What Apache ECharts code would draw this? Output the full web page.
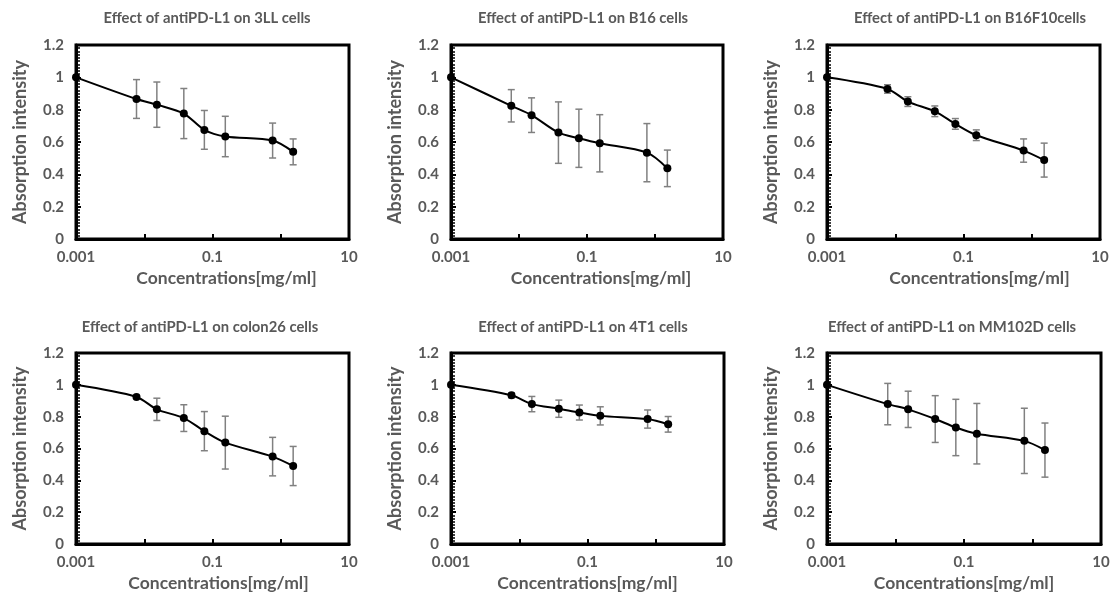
<!DOCTYPE html>
<html><head><meta charset="utf-8">
<script src="https://cdn.jsdelivr.net/npm/echarts@6/dist/echarts.min.js"></script>
<style>html,body{margin:0;padding:0;background:#fff}#c{width:1114px;height:593px}</style>
</head><body><div id="c"></div>
<script>
// ---- data ----
const concentrations = [0.001, 0.0077, 0.0153, 0.038, 0.076, 0.154, 0.76, 1.52];
const titles = [
  'Effect of antiPD-L1 on 3LL cells',
  'Effect of antiPD-L1 on B16 cells',
  'Effect of antiPD-L1 on B16F10cells',
  'Effect of antiPD-L1 on colon26 cells',
  'Effect of antiPD-L1 on 4T1 cells',
  'Effect of antiPD-L1 on MM102D cells'
];
const mean3LL    = [1, 0.866, 0.831, 0.776, 0.675, 0.634, 0.609, 0.539];
const err3LL     = [0, 0.120, 0.140, 0.155, 0.120, 0.125, 0.108, 0.080];
const meanB16    = [1, 0.824, 0.766, 0.658, 0.623, 0.592, 0.534, 0.437];
const errB16     = [0, 0.100, 0.107, 0.190, 0.180, 0.177, 0.180, 0.113];
const meanB16F10 = [1, 0.928, 0.850, 0.790, 0.712, 0.642, 0.547, 0.488];
const errB16F10  = [0, 0.026, 0.030, 0.033, 0.033, 0.033, 0.072, 0.105];
const meanColon26= [1, 0.924, 0.846, 0.791, 0.709, 0.637, 0.549, 0.490];
const errColon26 = [0, 0.010, 0.070, 0.084, 0.123, 0.166, 0.121, 0.123];
const mean4T1    = [1, 0.934, 0.879, 0.850, 0.826, 0.805, 0.785, 0.752];
const err4T1     = [0, 0.015, 0.048, 0.054, 0.047, 0.057, 0.057, 0.049];
const meanMM102D = [1, 0.879, 0.846, 0.785, 0.732, 0.693, 0.648, 0.590];
const errMM102D  = [0, 0.130, 0.114, 0.147, 0.177, 0.190, 0.205, 0.170];
const xTickLabels = ['0.001', '0.1', '10'];
const xAxisName = 'Concentrations[mg/ml]';
const yAxisName = 'Absorption intensity';

const means = [mean3LL, meanB16, meanB16F10, meanColon26, mean4T1, meanMM102D];
const errs  = [err3LL, errB16, errB16F10, errColon26, err4T1, errMM102D];

// ---- layout ----
const grids = [
  {left: 76,  top: 45,  width: 273, height: 194},
  {left: 451, top: 45,  width: 272, height: 194},
  {left: 827, top: 45,  width: 273, height: 194},
  {left: 76,  top: 353, width: 273, height: 195},
  {left: 451, top: 353, width: 273, height: 195},
  {left: 827, top: 353, width: 274, height: 195}
];
const titlePos = [[207, 11], [583, 11], [970, 11], [200, 320], [583, 320], [952, 320]];
const nameShift = [28, 28, 32, 12, 0, 0];
const FONT = 'Lato';
const GRAY = '#595959';

const option = {
  animation: false,
  title: titles.map((t, i) => ({
    text: t, left: titlePos[i][0], top: titlePos[i][1], textAlign: 'center', padding: 0,
    textStyle: {fontFamily: FONT, fontSize: 14.8, fontWeight: 'bold', color: GRAY}
  })),
  grid: grids.map(g => Object.assign({show: true, borderColor: '#000', borderWidth: 3}, g)),
  xAxis: grids.map((g, i) => {
    const ax = {
      type: 'log', gridIndex: i, min: 0.001, max: 10, splitNumber: 4,
      axisLine: {show: true, onZero: false, lineStyle: {color: '#000', width: 3}},
      axisTick: {show: true, inside: true, length: 5, lineStyle: {color: '#000', width: 2}},
      splitLine: {show: false},
      axisLabel: {
        margin: 11, color: GRAY, fontFamily: FONT, fontWeight: 'bold', fontSize: 15,
        formatter: v => xTickLabels.find(l => Math.abs(Math.log10(+l) - Math.log10(v)) < 1e-6) || ''
      },
      name: xAxisName, nameLocation: 'middle', nameGap: 30,
      nameTextStyle: {color: GRAY, fontFamily: FONT, fontWeight: 'bold', fontSize: 17.5}
    };
    if (nameShift[i] > 0) ax.nameTextStyle.padding = [0, 0, 0, nameShift[i]];
    return ax;
  }),
  yAxis: grids.map((g, i) => ({
    type: 'value', gridIndex: i, min: 0, max: 1.2, interval: 0.2,
    axisLine: {show: true, onZero: false, lineStyle: {color: '#000', width: 3}},
    axisTick: {show: true, inside: true, length: 5, lineStyle: {color: '#000', width: 2}},
    minorTick: {show: true, splitNumber: 10, length: 4, lineStyle: {color: '#000', width: 1.5}},
    splitLine: {show: false},
    axisLabel: {margin: 12, color: GRAY, fontFamily: FONT, fontWeight: 'bold', fontSize: 15},
    name: yAxisName, nameLocation: 'middle', nameGap: 47,
    nameTextStyle: {color: GRAY, fontFamily: FONT, fontWeight: 'bold', fontSize: 18}
  })),
  series: []
};

means.forEach((m, i) => {
  const e = errs[i];
  option.series.push({
    type: 'custom', xAxisIndex: i, yAxisIndex: i, z: 2, clip: false,
    encode: {x: 0, y: [1, 2]},
    data: concentrations.map((c, k) => [c, m[k] - e[k], m[k] + e[k]]).filter((d, k) => e[k] > 0),
    renderItem: (params, api) => {
      const lo = api.coord([api.value(0), api.value(1)]);
      const hi = api.coord([api.value(0), api.value(2)]);
      const st = {stroke: '#808080', lineWidth: 1.5};
      return {type: 'group', children: [
        {type: 'line', shape: {x1: lo[0], y1: lo[1], x2: hi[0], y2: hi[1]}, style: st},
        {type: 'line', shape: {x1: lo[0] - 3.5, y1: lo[1], x2: lo[0] + 3.5, y2: lo[1]}, style: st},
        {type: 'line', shape: {x1: hi[0] - 3.5, y1: hi[1], x2: hi[0] + 3.5, y2: hi[1]}, style: st}
      ]};
    }
  });
  option.series.push({
    type: 'line', xAxisIndex: i, yAxisIndex: i, z: 3, clip: false,
    data: concentrations.map((c, k) => [c, m[k]]),
    smooth: 0.3, symbol: 'circle', symbolSize: 8,
    lineStyle: {color: '#000', width: 2}, itemStyle: {color: '#000'}
  });
});

echarts.init(document.getElementById('c')).setOption(option);
</script>
</body></html>
